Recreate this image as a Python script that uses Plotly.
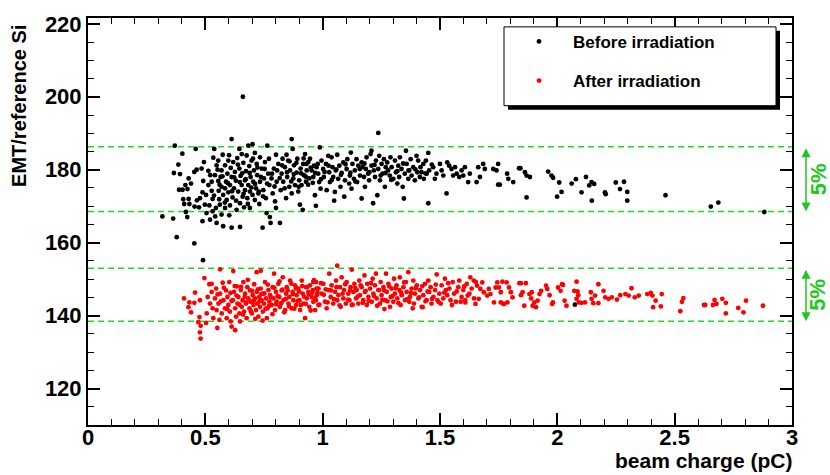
import plotly.graph_objects as go

# ---------------- data (beam charge in pC, EMT/reference Si) ----------------
before_pts = [
    (0.317,167.2),(0.363,166.6),(0.370,186.6),(0.378,161.5),(0.385,181.4),(0.366,179.1),(0.392,178.8),
    (0.402,184.4),(0.388,174.5),(0.403,174.5),(0.415,175.8),(0.424,174.7),(0.429,177.6),(0.439,176.2),
    (0.406,171.9),(0.429,172.0),(0.410,170.6),(0.432,170.6),(0.417,168.4),(0.423,167.0),(0.453,159.8),
    (0.454,169.9),(0.453,179.4),(0.459,185.7),(0.463,180.0),(0.464,171.6),(0.473,169.7),(0.477,172.2),
    (0.484,180.3),(0.488,173.8),(0.488,165.9),(0.491,176.9),(0.494,182.1),(0.498,170.4),(0.505,168.1),
    (0.503,173.1),(0.513,175.8),(0.513,179.7),(0.517,170.2),(0.520,166.3),(0.527,176.7),(0.527,174.2),
    (0.531,172.0),(0.531,168.6),(0.534,183.3),(0.538,185.7),(0.541,178.5),(0.542,167.2),(0.545,169.5),
    (0.548,165.4),(0.548,181.2),(0.555,182.5),(0.555,176.9),(0.557,174.2),(0.559,171.9),(0.562,170.4),
    (0.565,178.0),(0.569,179.8),(0.569,175.3),(0.569,167.7),(0.574,184.1),(0.576,173.1),(0.576,164.5),
    (0.584,181.2),(0.584,174.9),(0.584,169.5),(0.588,176.7),(0.591,171.7),(0.594,178.9),(0.598,182.5),
    (0.598,173.8),(0.602,167.5),(0.605,175.8),(0.605,170.2),(0.608,180.5),(0.612,188.4),(0.612,178.0),
    (0.612,164.1),(0.616,172.4),(0.619,182.1),(0.622,174.9),(0.626,179.4),(0.630,177.0),(0.633,169.0),
    (0.636,183.2),(0.640,174.0),(0.645,185.7),(0.645,180.3),(0.648,164.3),(0.648,170.8),(0.650,178.3),
    (0.655,184.3),(0.655,175.8),(0.659,172.6),(0.662,181.9),(0.665,169.7),(0.669,177.1),(0.669,174.4),
    (0.673,179.6),(0.676,183.9),(0.679,172.2),(0.683,186.6),(0.683,175.8),(0.687,181.0),(0.690,174.0),
    (0.690,169.5),(0.693,178.0),(0.697,182.5),(0.701,187.0),(0.701,173.1),(0.704,176.7),(0.707,179.8),
    (0.711,171.7),(0.711,184.6),(0.716,174.9),(0.719,181.6),(0.721,178.5),(0.726,173.5),(0.730,170.6),
    (0.733,183.4),(0.733,176.7),(0.740,180.3),(0.744,164.1),(0.747,174.4),(0.750,177.6),(0.754,182.1),
    (0.758,172.2),(0.761,168.1),(0.764,186.6),(0.768,178.9),(0.773,175.8),(0.775,167.0),(0.778,165.4),
    (0.782,177.6),(0.787,173.5),(0.792,180.3),(0.797,171.3),(0.801,184.1),(0.801,169.5),(0.804,176.7),
    (0.811,181.6),(0.818,165.4),(0.821,174.4),(0.825,178.9),(0.829,183.0),(0.832,176.7),(0.839,180.7),
    (0.844,172.2),(0.846,184.1),(0.849,178.0),(0.853,182.5),(0.858,175.3),(0.861,179.8),(0.868,188.4),
    (0.868,173.5),(0.872,185.7),(0.875,177.6),(0.878,181.2),(0.882,175.8),(0.889,179.2),(0.892,183.0),
    (0.896,174.0),(0.900,177.1),(0.903,170.4),(0.906,180.3),(0.910,175.8),(0.915,169.0),(0.917,181.6),
    (0.920,178.5),(0.925,184.3),(0.929,176.7),(0.932,179.8),(0.939,182.1),(0.943,177.6),
    (1.237,190.1),(0.988,186.1),(0.971,170.1),(0.967,173.0),(0.931,181.6),(0.946,183.0),(0.953,179.8),
    (0.960,178.0),(0.963,181.1),(0.974,180.7),(0.981,178.9),(0.985,176.6),(0.991,174.8),(0.995,182.5),
    (1.002,180.2),(1.005,178.0),(1.014,181.6),(1.017,174.4),(1.024,183.8),(1.028,179.3),(1.031,176.6),
    (1.038,183.4),(1.042,180.7),(1.045,178.0),(1.049,171.5),(1.052,173.9),(1.056,179.8),(1.062,184.1),
    (1.066,177.5),(1.071,181.1),(1.076,175.3),(1.081,179.1),(1.088,182.0),(1.092,172.6),(1.095,177.1),
    (1.102,180.2),(1.105,182.9),(1.113,176.2),(1.116,178.4),(1.120,184.7),(1.123,174.8),(1.127,181.6),
    (1.133,177.5),(1.137,179.8),(1.144,182.9),(1.147,176.6),(1.152,181.1),(1.159,178.4),(1.166,172.1),
    (1.166,182.0),(1.170,180.7),(1.176,178.0),(1.180,175.3),(1.184,180.2),(1.187,183.4),(1.194,178.9),
    (1.198,177.1),(1.204,184.3),(1.208,185.2),(1.208,181.1),(1.215,170.8),(1.218,179.8),(1.223,178.0),
    (1.227,182.5),(1.233,173.0),(1.237,180.2),(1.241,183.8),(1.244,177.1),(1.251,181.6),(1.255,178.9),
    (1.261,182.9),(1.265,175.3),(1.269,180.7),(1.275,182.0),(1.279,179.8),(1.286,178.4),(1.289,183.4),
    (1.294,180.7),(1.301,177.5),(1.308,182.5),(1.312,179.3),(1.318,176.2),(1.322,181.1),(1.326,178.0),
    (1.329,183.4),(1.336,180.2),(1.341,175.3),(1.346,172.1),(1.350,178.9),(1.355,185.2),(1.358,181.6),
    (1.365,177.5),(1.369,179.8),(1.375,182.9),(1.379,178.4),(1.386,180.7),(1.393,177.1),(1.400,183.8),
    (1.403,179.3),(1.407,182.5),(1.414,178.0),(1.417,180.7),(1.421,179.3),(1.429,181.6),(1.431,177.5),
    (1.440,182.5),(1.443,178.9),(1.450,170.8),(1.450,184.6),(1.454,179.8),(1.471,180.7),(1.478,177.5),
    (1.485,178.9),(1.500,181.6),(1.507,179.8),(1.514,178.4),(1.528,173.5),(1.531,182.0),(1.539,181.1),
    (1.549,180.2),(1.556,178.4),(1.564,180.7),(1.571,178.9),(1.582,178.0),(1.592,179.8),(1.599,178.4),
    (1.606,180.7),
    (1.627,178.9),(1.620,176.6),(1.656,176.6),(1.663,180.7),(1.670,178.0),(1.684,181.6),(1.691,180.2),
    (1.727,180.2),(1.741,179.8),(1.748,181.6),(1.748,175.9),(1.755,175.9),(1.786,178.9),(1.791,177.5),
    (1.812,176.6),(1.837,180.4),(1.843,180.4),(1.862,179.3),(1.869,178.4),(1.883,178.0),(1.869,172.4),
    (1.961,179.5),(1.975,178.4),(1.982,177.8),(2.008,176.5),(2.018,173.9),(1.999,172.6),(2.061,176.2),
    (2.079,177.4),(2.103,173.8),(2.122,178.0),(2.136,175.7),(2.146,176.6),(2.157,176.1),(2.147,171.5),
    (2.203,173.8),(2.206,173.3),(2.249,176.5),(2.267,174.7),(2.284,176.7),(2.298,173.9),(2.298,171.5),
    (2.461,173.0),(2.654,169.9),(2.686,171.0),(2.882,168.4),
    (0.660,200.0),(0.490,155.2),(2.075,143.0),
    (0.521,178.5),(0.537,172.9),(0.552,180.0),(0.561,175.9),(0.573,178.2),(0.583,171.0),(0.596,176.3),
    (0.601,184.0),(0.614,174.1),(0.623,177.9),(0.631,171.5),(0.639,181.4),(0.647,176.6),(0.657,179.0),
    (0.663,173.4),(0.672,177.4),(0.681,170.6),(0.689,179.1),(0.696,175.1),(0.703,183.0),(0.712,176.1),
    (0.722,180.6),(0.728,174.0),(0.737,178.0),(0.746,172.7),(0.753,180.2),(0.763,176.2),(0.771,183.0),
    (0.784,178.9),(0.795,175.4),(0.806,179.8),(0.817,177.7),(0.827,181.2),(0.838,174.9),(0.848,179.3),
    (0.859,182.3),(0.866,176.8),(0.877,178.8),(0.888,181.9),(0.898,175.3),(0.908,179.0),(0.919,183.1),
    (0.928,178.1),(0.938,175.9),(0.949,180.6),(0.958,176.4),(0.968,179.1),(0.979,181.6),(0.993,177.4),
    (1.008,179.4),(1.025,181.1),(1.039,177.2),(1.058,180.1),(1.078,178.6),(1.097,181.5),(1.118,179.2),
    (1.139,176.8),(1.158,180.2),(1.178,181.7),(1.199,179.3),(1.221,181.3),(1.247,178.4),(1.268,179.1),
    (1.292,177.2),(1.318,179.6),(1.343,181.7),(1.366,179.8),(1.395,180.1),(1.438,179.0),(1.465,181.4),
]

after_pts = [
    (0.409,144.7),(0.432,143.6),(0.428,142.3),(0.439,140.9),(0.456,146.3),(0.453,143.5),(0.477,144.2),
    (0.475,139.6),(0.470,138.2),(0.480,137.2),(0.477,135.4),(0.480,133.7),(0.496,150.3),(0.503,138.0),
    (0.506,140.6),(0.510,145.1),(0.517,148.6),(0.520,143.3),(0.527,146.5),(0.527,148.7),(0.531,142.0),
    (0.534,139.3),(0.541,144.7),(0.546,147.4),(0.548,141.5),(0.551,136.6),(0.556,143.3),(0.560,138.8),
    (0.563,152.7),(0.563,146.0),(0.570,140.6),(0.574,149.0),(0.577,144.2),(0.584,142.0),(0.588,146.9),
    (0.591,139.3),(0.594,145.1),(0.598,142.9),(0.602,149.2),(0.605,141.1),(0.608,138.4),(0.612,137.0),
    (0.617,144.2),(0.619,152.2),(0.622,146.5),(0.627,136.0),(0.627,142.0),(0.631,139.7),(0.634,148.0),
    (0.637,143.3),(0.641,145.1),(0.645,140.6),(0.648,138.4),(0.651,147.0),(0.655,142.4),(0.659,144.2),
    (0.662,149.2),(0.665,141.1),(0.669,146.0),(0.673,143.3),(0.676,139.3),(0.679,147.8),(0.683,144.7),
    (0.688,142.0),(0.690,146.9),(0.693,143.8),(0.698,140.6),(0.702,145.6),(0.705,142.9),(0.708,148.6),
    (0.712,144.7),(0.716,141.5),(0.719,151.9),(0.719,146.5),(0.722,143.3),(0.726,139.7),(0.730,145.1),
    (0.733,142.4),(0.736,152.3),(0.736,147.4),(0.740,144.2),(0.745,141.1),(0.747,146.0),(0.750,143.3),
    (0.754,149.2),(0.759,144.7),(0.762,139.3),(0.764,142.0),(0.769,147.0),(0.773,143.8),(0.776,145.6),
    (0.783,142.9),(0.787,147.8),(0.790,144.7),(0.793,151.5),(0.797,141.5),(0.801,146.5),(0.804,143.8),
    (0.811,148.7),(0.815,145.1),(0.818,142.4),(0.825,146.9),(0.830,150.5),(0.833,144.2),(0.840,141.5),
    (0.844,146.0),(0.847,147.8),(0.854,143.3),(0.858,145.1),(0.861,149.6),(0.868,142.0),(0.872,146.5),
    (0.875,144.2),(0.882,148.3),(0.887,142.9),(0.889,145.6),(0.896,147.4),(0.901,144.2),(0.904,141.5),
    (0.911,149.6),(0.915,146.0),(0.918,143.3),(0.925,139.3),(0.929,147.8),(0.932,144.7),(0.939,146.5),
    (0.943,142.4),(0.946,148.3),(0.953,145.1),(0.958,147.0),(0.960,143.8),(0.968,141.5),(0.972,149.2),
    (0.975,145.6),(0.982,147.4),
    (1.062,153.7),(1.124,152.6),(0.960,149.2),(0.974,147.4),(0.967,144.7),(0.982,142.9),(0.996,146.0),
    (1.003,148.7),(1.010,143.8),(1.017,142.0),(1.024,147.0),(1.028,151.5),(1.034,145.1),(1.038,148.3),
    (1.045,143.3),(1.053,146.5),(1.057,149.6),(1.062,144.2),(1.067,145.6),(1.074,147.8),(1.077,142.4),
    (1.081,150.5),(1.088,144.7),(1.091,147.0),(1.099,143.3),(1.102,149.2),(1.109,146.0),(1.114,144.2),
    (1.119,147.8),(1.124,142.9),(1.131,146.5),(1.135,148.7),(1.142,144.7),(1.145,147.0),(1.152,143.3),
    (1.156,149.6),(1.159,145.6),(1.166,147.8),(1.173,144.2),(1.178,151.0),(1.180,146.5),(1.188,142.9),
    (1.190,148.7),(1.195,145.1),(1.202,147.4),(1.209,143.8),(1.213,150.1),(1.216,146.0),(1.223,148.3),
    (1.227,151.5),(1.230,144.7),(1.237,147.0),(1.244,143.3),(1.247,149.2),(1.251,145.6),(1.259,147.8),
    (1.263,141.8),(1.266,144.2),(1.270,151.5),(1.273,146.5),(1.280,148.7),(1.287,142.4),(1.290,145.1),
    (1.294,147.4),(1.301,143.8),(1.304,150.1),(1.308,146.0),(1.315,148.3),(1.318,144.7),(1.327,147.0),
    (1.329,150.5),(1.332,142.9),(1.337,145.6),(1.344,147.8),(1.351,144.2),(1.355,149.2),(1.358,146.5),
    (1.365,151.9),(1.369,143.8),(1.372,145.1),(1.379,147.4),(1.386,149.6),(1.389,143.3),(1.393,146.0),
    (1.401,148.3),(1.408,144.7),(1.415,147.0),(1.422,142.4),(1.426,142.3),(1.429,145.6),(1.436,148.7),
    (1.443,144.2),(1.450,149.6),(1.454,146.5),(1.460,147.8),(1.464,143.3),(1.472,145.1),(1.479,147.0),
    (1.486,151.3),(1.489,144.2),(1.497,146.0),(1.503,143.3),(1.507,148.3),(1.514,144.7),(1.521,150.1),
    (1.525,147.0),(1.531,145.6),(1.540,147.4),(1.545,144.2),(1.554,149.2),(1.560,146.0),(1.568,143.8),
    (1.578,147.8),(1.582,149.6),(1.592,145.1),(1.599,147.0),(1.607,144.2),(1.614,148.7),(1.625,146.0),
    (1.635,147.4),(1.645,144.7),(1.653,149.2),
    (1.629,150.5),(1.644,149.6),(1.658,148.2),(1.672,147.3),(1.687,146.4),(1.701,145.5),(1.715,145.9),
    (1.730,143.6),(1.680,149.1),(1.770,143.2),(1.651,143.2),(1.608,143.6),(1.759,143.6),(1.708,147.3),
    (1.665,144.6),
    (1.737,147.7),(1.744,149.1),(1.751,147.7),(1.759,146.4),(1.773,143.2),(1.787,143.6),(1.766,149.3),
    (1.784,149.1),(1.794,147.7),(1.802,146.4),(1.809,145.0),(1.838,148.9),(1.845,148.9),(1.866,148.9),
    (1.852,146.4),(1.845,145.6),(1.859,142.7),(1.881,145.9),(1.888,144.7),(1.895,142.7),(1.891,146.4),
    (1.902,143.6),(1.916,144.1),(1.909,142.3),(1.931,146.8),(1.924,145.9),(1.952,148.2),(1.957,147.3),
    (1.967,145.6),(1.981,143.6),(1.978,143.2),(2.003,147.7),(2.014,146.8),(2.020,148.6),(2.031,144.1),
    (2.039,142.7),(2.024,148.4),(2.072,146.8),(2.082,149.3),(2.086,146.6),(2.089,145.6),(2.082,144.6),
    (2.092,143.6),(2.103,143.5),(2.118,143.6),(2.143,146.4),(2.146,144.6),(2.161,145.5),(2.153,143.4),
    (2.175,148.6),(2.175,143.4),(2.197,146.8),(2.204,145.0),(2.218,144.6),(2.232,145.0),(2.254,144.4),
    (2.268,145.6),(2.290,145.9),(2.304,145.5),(2.316,147.5),(2.330,145.0),(2.347,145.5),(2.383,145.9),
    (2.398,146.2),(2.405,145.5),(2.408,142.3),(2.419,144.1),(2.441,142.5),(2.445,145.9),(2.524,141.2),
    (2.531,143.8),(2.537,144.8),(2.625,142.9),(2.630,142.9),(2.663,142.9),(2.670,144.3),(2.678,143.2),
    (2.703,144.6),(2.718,143.5),(2.718,140.6),(2.771,142.1),(2.793,140.9),(2.804,144.1),(2.876,142.7),
    (0.552,145.8),(0.566,143.9),(0.579,147.6),(0.593,141.8),(0.607,146.2),(0.612,144.0),(0.625,148.1),
    (0.633,145.5),(0.646,143.0),(0.652,147.9),(0.661,140.3),(0.668,145.2),(0.675,143.6),(0.681,149.8),
    (0.694,141.2),(0.699,146.8),(0.706,144.1),(0.713,139.1),(0.724,147.2),(0.731,143.9),(0.738,145.9),
    (0.744,138.6),(0.752,146.1),(0.757,141.9),(0.766,148.5),(0.771,142.6),(0.779,145.0),(0.786,140.4),
    (0.794,147.6),(0.802,143.1),(0.808,145.3),(0.816,149.4),(0.823,143.4),(0.829,147.1),(0.836,140.9),
    (0.843,144.6),(0.851,146.9),(0.857,142.5),(0.866,148.8),(0.873,145.9),(0.879,141.9),(0.886,147.5),
    (0.893,144.0),(0.899,146.6),(0.907,142.9),(0.913,148.1),(0.921,145.2),(0.928,143.2),(0.935,147.9),
    (0.941,145.8),(0.949,141.4),(0.956,146.3),(0.963,149.7),(0.971,144.2),(0.978,146.2),(0.986,143.0),
    (0.993,148.9),(1.005,145.7),(1.013,147.2),(1.021,143.6),(1.035,146.9),(1.048,144.5),(1.059,147.8),
    (1.072,142.8),(1.085,146.0),(1.096,148.6),(1.108,144.4),(1.117,146.9),(1.128,143.0),(1.139,147.6),
    (1.149,145.2),(1.162,148.3),(1.171,143.5),(1.183,146.8),(1.196,144.0),(1.206,148.9),(1.219,145.4),
    (1.232,142.7),(1.241,147.0),(1.254,144.3),(1.262,146.9),(1.276,143.9),(1.284,148.0),(1.297,145.3),
    (1.311,147.5),(1.323,143.4),(1.334,146.3),(1.347,149.1),(1.361,144.5),(1.376,146.2),(1.384,142.0),
    (1.397,147.5),(1.411,145.0),(1.425,148.1),(1.438,143.9),(1.447,146.6),(1.466,144.6),(1.482,148.5),
    (1.494,143.7),(1.518,146.3),(1.535,148.9),(1.551,142.9),(1.571,146.6),(1.588,143.8),(1.603,148.0),
    (1.618,145.5),
]

before_x = [p[0] for p in before_pts]
before_y = [p[1] for p in before_pts]
after_x = [p[0] for p in after_pts]
after_y = [p[1] for p in after_pts]

series_names = ["Before irradiation", "After irradiation"]
band_centres = [177.4, 145.7]      # reference level of each band
band_fraction = 0.05               # +/- 5 %
band_label = "5%"

x_ticks = [0, 0.5, 1, 1.5, 2, 2.5, 3]
y_ticks = [120, 140, 160, 180, 200, 220]

# ---------------- layout helpers ----------------
W, H = 830, 475
ML, MR, MT, MB = 88, 38, 12, 50
PW, PH = W - ML - MR, H - MT - MB


def px(xp):
    return (xp - ML) / PW


def py(yp):
    return (H - MB - yp) / PH


FONT = "Liberation Sans, Arial, Helvetica, sans-serif"
GREEN_LINE = "rgb(30,220,30)"
GREEN = "rgb(30,200,30)"

fig = go.Figure()
fig.add_trace(go.Scatter(x=before_x, y=before_y, mode="markers", name=series_names[0],
                         legendgroup="a",
                         marker=dict(color="black", size=4.8, line=dict(width=0))))
fig.add_trace(go.Scatter(x=after_x, y=after_y, mode="markers", name=series_names[1],
                         legendgroup="b",
                         marker=dict(color="red", size=4.8, line=dict(width=0))))

shapes = []
annotations = []
for c in band_centres:
    hi, lo = c * (1 + band_fraction), c * (1 - band_fraction)
    for v in (hi, lo):
        shapes.append(dict(type="line", xref="x", yref="y", x0=0, x1=3, y0=v, y1=v,
                           line=dict(color=GREEN_LINE, width=1.5, dash="6px,4px"), layer="below"))
    # double arrow outside the frame
    annotations.append(dict(xref="paper", yref="y", x=px(806), y=lo, axref="pixel", ayref="y",
                            ax=0, ay=hi, text="", showarrow=True, arrowside="end+start",
                            arrowhead=2, arrowsize=1.2, arrowwidth=1.5, arrowcolor=GREEN,
                            standoff=0, startstandoff=0))
    annotations.append(dict(xref="paper", yref="y", x=px(818), y=c, text=band_label,
                            showarrow=False, textangle=-90, xanchor="center", yanchor="middle",
                            font=dict(family=FONT, size=22, color=GREEN, weight="bold")))

# legend box with ROOT style shadow
lx0, ly0, lx1, ly1 = 504, 21, 776, 101
shapes.append(dict(type="rect", xref="paper", yref="paper", x0=px(lx0 + 4), x1=px(lx1 + 4),
                   y0=py(ly1 + 4), y1=py(ly0 + 4), fillcolor="black", line=dict(width=0),
                   layer="above"))
shapes.append(dict(type="rect", xref="paper", yref="paper", x0=px(lx0), x1=px(lx1),
                   y0=py(ly1), y1=py(ly0), fillcolor="white",
                   line=dict(color="black", width=1), layer="above"))

# axis titles (ROOT style: aligned to the end of the axes)
annotations.append(dict(xref="paper", yref="paper", x=1.0 + 2 / PW, y=py(475), text="beam charge (pC)",
                        showarrow=False, xanchor="right", yanchor="bottom",
                        font=dict(family=FONT, size=21, color="black", weight="bold")))
annotations.append(dict(xref="paper", yref="paper", x=px(6), y=py(17), text="EMT/reference Si",
                        showarrow=False, textangle=-90, xanchor="left", yanchor="top",
                        font=dict(family=FONT, size=20, color="black", weight="bold")))

axis_common = dict(showline=True, linecolor="black", linewidth=2, mirror="allticks",
                   ticks="inside", ticklen=12, tickwidth=1.5, tickcolor="black",
                   showgrid=False, zeroline=False,
                   tickfont=dict(family=FONT, size=22, color="black", weight="bold"))

fig.update_layout(
    width=W, height=H,
    margin=dict(l=ML, r=MR, t=MT, b=MB, pad=0),
    paper_bgcolor="white", plot_bgcolor="white",
    showlegend=True,
    legend=dict(x=px(505), y=py(18), xanchor="left", yanchor="top",
                bgcolor="rgba(0,0,0,0)", borderwidth=0, itemwidth=58,
                tracegroupgap=14, itemsizing="trace",
                font=dict(family=FONT, size=17, color="black", weight="bold")),
    xaxis=dict(range=[0, 3], tickvals=x_ticks, ticktext=[f"{t:g}" for t in x_ticks],
               ticklabelstandoff=-8,
               minor=dict(dtick=0.1, ticks="inside", ticklen=6, tickwidth=1.2, tickcolor="black"),
               **axis_common),
    yaxis=dict(range=[110, 221.6], tickvals=y_ticks,
               minor=dict(dtick=5, ticks="inside", ticklen=6, tickwidth=1.2, tickcolor="black"),
               **axis_common),
    shapes=shapes,
    annotations=annotations,
)

fig.write_html("out.html")
